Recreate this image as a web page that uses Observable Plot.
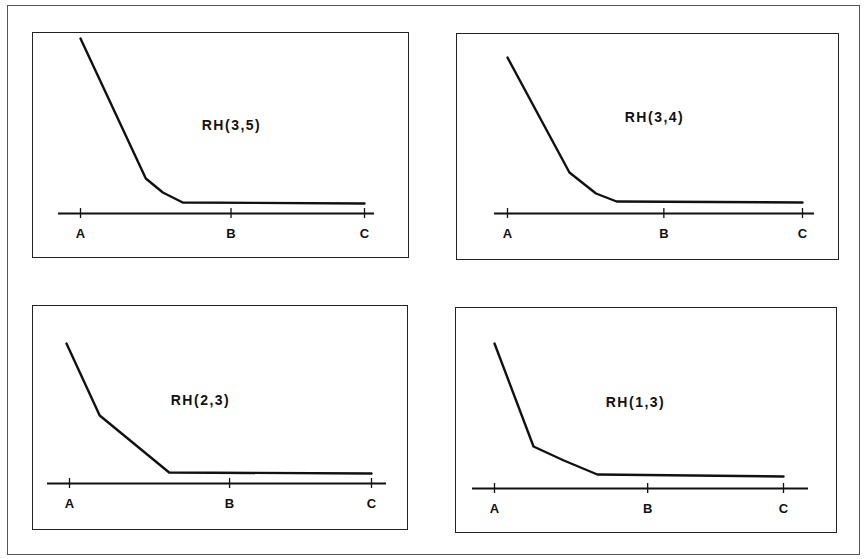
<!DOCTYPE html>
<html>
<head>
<meta charset="utf-8">
<script src="https://cdn.jsdelivr.net/npm/d3@7"></script>
<script src="https://cdn.jsdelivr.net/npm/@observablehq/plot@0.6"></script>
<style>
  html, body { margin: 0; padding: 0; background: #fff; }
  #root { position: relative; width: 864px; height: 559px; overflow: hidden; background: #fff; }
  .outer { position: absolute; box-sizing: border-box; border: 1px solid #555; }
  .panel { position: absolute; box-sizing: border-box; border: 1px solid #222; background: #fff; }
  .panel svg { display: block; }
</style>
</head>
<body>
<div id="root"></div>
<script>
// ---------------- data ----------------
const categories = ["RH(3,5)", "RH(3,4)", "RH(2,3)", "RH(1,3)"];
const tickValues = [0, 53, 100];
const tickLabels = ["A", "B", "C"];

// curve points: x along A..C (0..100), y = height above the axis
const curveX_35 = [0, 23, 29, 36, 100];
const curveY_35 = [175, 35, 21, 11, 10];
const curveX_34 = [0, 21, 30, 37, 100];
const curveY_34 = [156, 41, 20, 12, 11];
const curveX_23 = [-1, 10, 33, 100];
const curveY_23 = [140, 68, 11, 10];
const curveX_13 = [0, 13.5, 24, 35.6, 100];
const curveY_13 = [145, 42, 28, 14, 12];

const curvesX = [curveX_35, curveX_34, curveX_23, curveX_13];
const curvesY = [curveY_35, curveY_34, curveY_23, curveY_13];

// ---------------- layout (pixels) ----------------
const layout = [
  {box: [32, 32, 409, 258],  A: 80,  C: 364, axisY: 213, line: [58, 374],  label: [231, 125]},
  {box: [456, 33, 839, 260], A: 507, C: 802, axisY: 213, line: [494, 814], label: [654, 117]},
  {box: [32, 305, 408, 530], A: 69,  C: 371, axisY: 483, line: [47, 386],  label: [200, 400]},
  {box: [455, 307, 837, 533], A: 494, C: 783, axisY: 488, line: [472, 808], label: [635, 402]}
];

const root = document.getElementById("root");
const outer = document.createElement("div");
outer.className = "outer";
Object.assign(outer.style, {left: "7px", top: "5px", width: "853px", height: "550px"});
root.appendChild(outer);

const ink = "#111";
const font = "'Liberation Sans', Arial, Helvetica, sans-serif";

categories.forEach((name, i) => {
  const L = layout[i];
  const [bx0, by0, bx1, by1] = L.box;
  const div = document.createElement("div");
  div.className = "panel";
  Object.assign(div.style, {left: bx0 + "px", top: by0 + "px", width: (bx1 - bx0) + "px", height: (by1 - by0) + "px"});
  root.appendChild(div);

  const ox = bx0 + 1, oy = by0 + 1;
  const w = bx1 - bx0 - 2, h = by1 - by0 - 2;
  const k = (L.C - L.A) / 100;            // px per x-unit
  const toX = px => (px - L.A) / k;       // pixel -> data x
  const toY = py => L.axisY - py;         // pixel -> data y
  const data = curvesX[i].map((x, j) => ({x, y: curvesY[i][j]}));

  const svg = Plot.plot({
    width: w,
    height: h,
    margin: 0,
    marginBottom: h - (L.axisY - oy),
    x: {domain: [0, 100], range: [L.A - ox, L.C - ox]},
    y: {domain: [0, 100], range: [L.axisY - oy, L.axisY - oy - 100], axis: null},
    style: {fontFamily: font, background: "#fff", color: ink, overflow: "visible"},
    marks: [
      Plot.ruleY([0], {x1: toX(L.line[0]), x2: toX(L.line[1]), stroke: ink, strokeWidth: 2}),
      Plot.ruleX(tickValues, {x: d => d, y1: -5, y2: 5, stroke: ink, strokeWidth: 1.3}),
      Plot.axisX(tickValues, {
        tickFormat: (d) => tickLabels[tickValues.indexOf(d)],
        tickSize: 0, tickPadding: 15, fontSize: 13, fontWeight: "bold", fill: ink, label: null
      }),
      Plot.line(data, {x: "x", y: "y", stroke: ink, strokeWidth: 2.4, strokeLinejoin: "round", strokeLinecap: "round"}),
      Plot.text([name], {x: toX(L.label[0]), y: toY(L.label[1]), text: d => d,
        fontSize: 14, fontWeight: "bold", fill: ink, textAnchor: "middle", lineAnchor: "middle"})
    ]
  });
  svg.querySelectorAll("text").forEach(t => {
    if (t.textContent.startsWith("RH")) t.style.letterSpacing = "1.5px";
  });
  div.appendChild(svg);
});
</script>
</body>
</html>
